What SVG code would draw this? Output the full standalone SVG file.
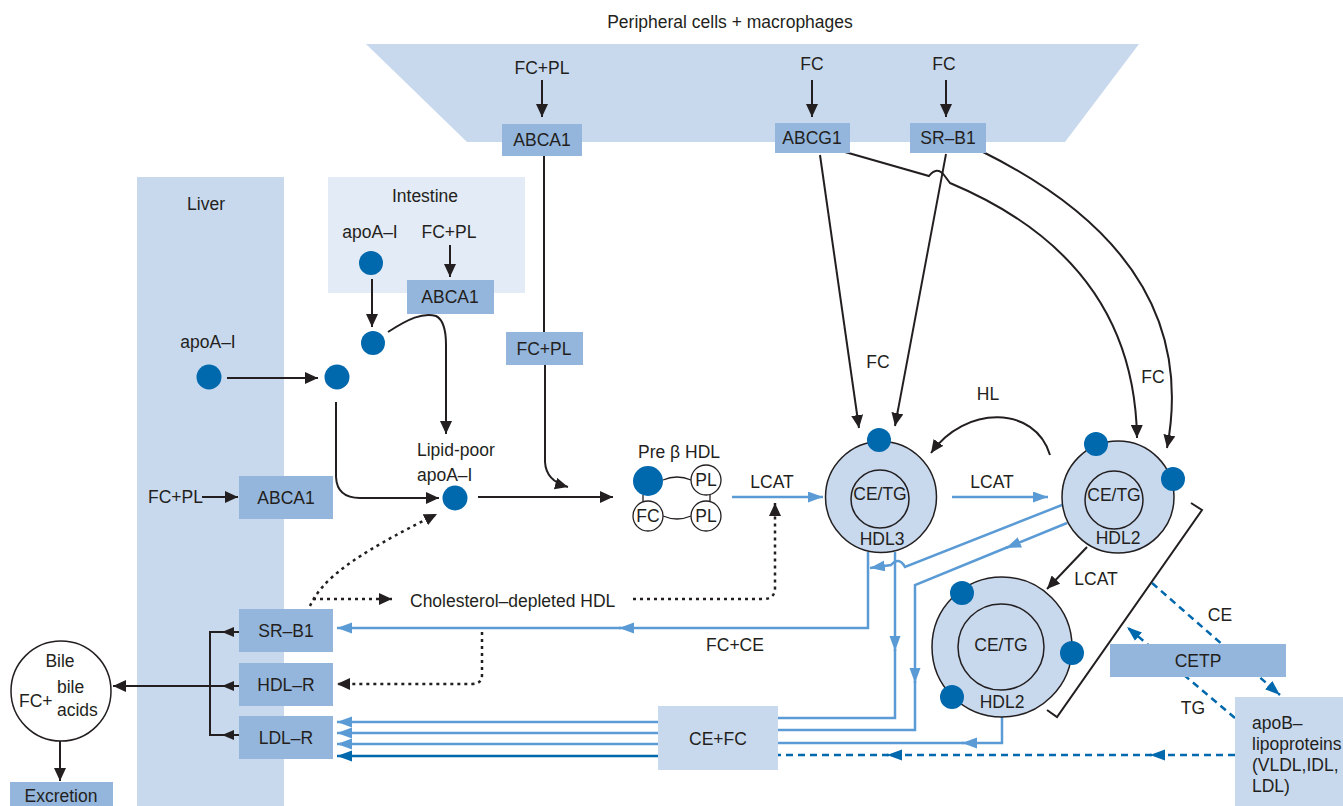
<svg xmlns="http://www.w3.org/2000/svg" width="1343" height="806" viewBox="0 0 1343 806">
<defs>
<style>
.t{font-family:"Liberation Sans",Arial,sans-serif;font-size:17.5px;fill:#231f20}
.c{text-anchor:middle}
.k{stroke:#231f20;stroke-width:2;fill:none}
.kd{stroke:#231f20;stroke-width:2.5;fill:none;stroke-dasharray:3,4}
.b{stroke:#5b9bd5;stroke-width:2.5;fill:none}
.bd{stroke:#0068ad;stroke-width:2.5;fill:none;stroke-dasharray:7,5}
.db{stroke:#0068ad;stroke-width:2.5;fill:none}
.dot{fill:#0068ad}
.box{fill:#94b6dc}
.pan{fill:#c8d9ee}
.hdl{fill:#c8d9ee;stroke:#231f20;stroke-width:1.5}
.ring{fill:none;stroke:#231f20;stroke-width:1.5}
.sm{fill:#fff;stroke:#231f20;stroke-width:1.3}
</style>
<marker id="ak" markerUnits="userSpaceOnUse" markerWidth="14" markerHeight="12" refX="13" refY="6" orient="auto"><path d="M0,0 L13,6 L0,12 z" fill="#231f20"/></marker>
<marker id="ab" markerUnits="userSpaceOnUse" markerWidth="16" markerHeight="12" refX="15" refY="5.5" orient="auto"><path d="M0,0 L15,5.5 L0,11 z" fill="#5b9bd5"/></marker>
<marker id="ad" markerUnits="userSpaceOnUse" markerWidth="16" markerHeight="12" refX="15" refY="5.5" orient="auto"><path d="M0,0 L15,5.5 L0,11 z" fill="#0068ad"/></marker>
</defs>
<rect width="1343" height="806" fill="#fff"/>

<g id="panels">
<text class="t c" x="730" y="28">Peripheral cells + macrophages</text>
<polygon class="pan" points="366,44 1139,44 1065,142 467,142"/>
<rect class="pan" x="137" y="177" width="147" height="629"/>
<text class="t c" x="206" y="210">Liver</text>
<rect x="328" y="177" width="197" height="116" fill="#e3ebf6"/>
<text class="t c" x="425" y="202">Intestine</text>
</g>

<g id="connectors">
<!-- top arrows -->
<path class="k" d="M542,80 L542,117" marker-end="url(#ak)"/>
<path class="k" d="M812,80 L812,117" marker-end="url(#ak)"/>
<path class="k" d="M946,80 L946,117" marker-end="url(#ak)"/>
<path class="k" d="M544,156 L544,332"/>
<path class="k" d="M545,365 L545,462 Q546,481 568,487" marker-end="url(#ak)"/>
<!-- intestine -->
<path class="k" d="M450,245 L450,277" marker-end="url(#ak)"/>
<path class="k" d="M372,279 L372,327" marker-end="url(#ak)"/>
<path class="k" d="M388,332 C408,319 423,312 436,316 Q446,321 446,345 L446,434" marker-end="url(#ak)"/>
<!-- liver apoA-I -->
<path class="k" d="M227,378 L318,378" marker-end="url(#ak)"/>
<path class="k" d="M336,402 L336,477 Q337,498 360,498 L439,498" marker-end="url(#ak)"/>
<path class="k" d="M202,497 L238,497" marker-end="url(#ak)"/>
<!-- to pre beta -->
<path class="k" d="M478,497 L613,497" marker-end="url(#ak)"/>
<path class="b" d="M732,497 L823,497" marker-end="url(#ab)"/>
<path class="b" d="M952,497 L1048,497" marker-end="url(#ab)"/>
<!-- peripheral to HDL -->
<path class="k" d="M820,155 L859,428" marker-end="url(#ak)"/>
<path class="k" d="M946,154 L895,426" marker-end="url(#ak)"/>
<path class="k" d="M845,152 L929,176 Q937,166 944,175 L950,183 C1050,225 1135,300 1137,438" marker-end="url(#ak)"/>
<path class="k" d="M983,152 C1100,210 1195,300 1167,448" marker-end="url(#ak)"/>
<path class="k" d="M1050,455 C1035,405 965,405 931,453" marker-end="url(#ak)"/>
<path class="k" d="M1087,547 L1047,589" marker-end="url(#ak)"/>
<!-- blue flows -->
<path class="b" d="M868,552 L868,628 L619,628" marker-end="url(#ab)"/>
<path class="b" d="M621,628 L337,628" marker-end="url(#ab)"/>
<path class="b" d="M1062,505 L905,567 Q899,556 891,565 L870,568" marker-end="url(#ab)"/>
<path class="b" d="M895,552 L895,651" marker-end="url(#ab)"/>
<path class="b" d="M895,649 L895,718 L778,718"/>
<path class="b" d="M1067,523 L1006,548" marker-end="url(#ab)"/>
<path class="b" d="M1008,547 L915,585 L915,683" marker-end="url(#ab)"/>
<path class="b" d="M915,681 L915,730 L778,730"/>
<path class="b" d="M1002,717 L1002,743 L962,743" marker-end="url(#ab)"/>
<path class="b" d="M964,743 L778,743"/>
<path class="b" d="M658,722 L337,722" marker-end="url(#ab)"/>
<path class="b" d="M658,733 L337,733" marker-end="url(#ab)"/>
<path class="b" d="M658,744 L337,744" marker-end="url(#ab)"/>
<path class="db" d="M658,756 L337,756" marker-end="url(#ad)"/>
<path class="bd" d="M1235,755 L1150,755" marker-end="url(#ad)"/>
<path class="bd" d="M1152,755 L887,755" marker-end="url(#ad)"/>
<path class="bd" d="M889,755 L778,755"/>
<path class="bd" d="M1152,583 L1280,695" marker-end="url(#ad)"/>
<path class="bd" d="M1235,718 L1127,627" marker-end="url(#ad)"/>
<!-- bracket -->
<polyline class="k" points="1191,503 1202,510 1057,717 1047,710"/>
<!-- dotted -->
<path class="kd" d="M310,606 C322,580 350,557 437,514" marker-end="url(#ak)"/>
<path class="kd" d="M313,599 L392,599" marker-end="url(#ak)"/>
<path class="kd" d="M633,599 L763,599 Q775,599 775,588 L775,503" marker-end="url(#ak)"/>
<path class="kd" d="M482,632 L482,675 Q482,684 472,684 L337,684" marker-end="url(#ak)"/>
<!-- liver receptors to bile -->
<path class="k" d="M239,632 L210,632 L210,735 L239,735"/>
<path class="k" d="M239,686 L113,686" marker-end="url(#ak)"/>
<polygon points="222,632 234,627 234,637" fill="#231f20"/>
<polygon points="222,686 234,681 234,691" fill="#231f20"/>
<polygon points="222,735 234,730 234,740" fill="#231f20"/>
<path class="k" d="M60,741 L60,781" marker-end="url(#ak)"/>
</g>

<g id="top-ABCA1"><rect class="box" x="502" y="124" width="80" height="32"/><text class="t c" x="542" y="146">ABCA1</text><text class="t c" x="542" y="74">FC+PL</text></g>
<g id="top-ABCG1"><rect class="box" x="775" y="123" width="75" height="30"/><text class="t c" x="812" y="144">ABCG1</text><text class="t c" x="812" y="70">FC</text></g>
<g id="top-SRB1"><rect class="box" x="910" y="123" width="76" height="30"/><text class="t c" x="948" y="144">SR–B1</text><text class="t c" x="944" y="70">FC</text></g>

<g id="intestine">
<text class="t c" x="370" y="238">apoA–I</text>
<text class="t c" x="449" y="238">FC+PL</text>
<circle class="dot" cx="371" cy="263" r="12"/>
<rect class="box" x="407" y="280" width="87" height="34"/>
<text class="t c" x="450" y="303">ABCA1</text>
</g>
<g id="apoA1-mid"><circle class="dot" cx="373" cy="343" r="12"/></g>
<g id="fcpl-box"><rect class="box" x="506" y="332" width="77" height="33"/><text class="t c" x="544" y="355">FC+PL</text></g>

<g id="liver-apoA1">
<text class="t c" x="208" y="348">apoA–I</text>
<circle class="dot" cx="209" cy="377" r="12.5"/>
<circle class="dot" cx="337" cy="377" r="12.5"/>
</g>
<g id="liver-ABCA1">
<text class="t" x="148" y="503">FC+PL</text>
<rect class="box" x="239" y="476" width="94" height="43"/>
<text class="t c" x="286" y="504">ABCA1</text>
</g>

<g id="lipid-poor">
<text class="t" x="417" y="456">Lipid-poor</text>
<text class="t" x="417" y="481">apoA–I</text>
<circle class="dot" cx="455" cy="498" r="12.5"/>
</g>

<g id="prebeta">
<text class="t c" x="679" y="458">Pre β HDL</text>
<path class="k" style="stroke-width:1.3" d="M663,480 Q677,474 691,480 M663,516 Q677,522 691,516 M643,495 L643,502 M710,495 L710,502"/>
<circle class="sm" cx="706" cy="480" r="15"/>
<circle class="sm" cx="648" cy="516" r="15"/>
<circle class="sm" cx="706" cy="516" r="15"/>
<circle class="dot" cx="648" cy="481" r="15"/>
<text class="t c" x="706" y="486">PL</text>
<text class="t c" x="648" y="522">FC</text>
<text class="t c" x="706" y="522">PL</text>
</g>
<text class="t c" x="772" y="488">LCAT</text>
<text class="t c" x="992" y="488">LCAT</text>
<text class="t c" x="878" y="368">FC</text>
<text class="t c" x="1153" y="383">FC</text>
<text class="t c" x="988" y="400">HL</text>
<text class="t c" x="1096" y="585">LCAT</text>
<text class="t c" x="735" y="651">FC+CE</text>

<g id="HDL3">
<circle class="hdl" cx="881" cy="497" r="55.5"/>
<circle class="ring" cx="880" cy="499" r="29"/>
<text class="t c" x="880" y="500">CE/TG</text>
<text class="t c" x="882" y="545">HDL3</text>
<circle class="dot" cx="879" cy="440" r="12"/>
</g>
<g id="HDL2a">
<circle class="hdl" cx="1118" cy="497" r="56"/>
<circle class="ring" cx="1114" cy="500" r="29"/>
<text class="t c" x="1114" y="501">CE/TG</text>
<text class="t c" x="1118" y="544">HDL2</text>
<circle class="dot" cx="1096" cy="444" r="12"/>
<circle class="dot" cx="1173" cy="479" r="12"/>
</g>
<g id="HDL2b">
<circle class="hdl" cx="1002" cy="647" r="70"/>
<circle class="ring" cx="1001" cy="647" r="43"/>
<text class="t c" x="1001" y="651">CE/TG</text>
<text class="t c" x="1002" y="708">HDL2</text>
<circle class="dot" cx="962" cy="593" r="12"/>
<circle class="dot" cx="1072" cy="653" r="12"/>
<circle class="dot" cx="952" cy="697" r="12"/>
</g>

<g id="chol-depleted"><text class="t" x="410" y="607">Cholesterol–depleted HDL</text></g>
<g id="CETP">
<rect class="box" x="1110" y="644" width="176" height="33"/>
<text class="t c" x="1198" y="667">CETP</text>
<text class="t c" x="1220" y="621">CE</text>
<text class="t c" x="1193" y="714">TG</text>
</g>
<g id="apoB">
<rect class="pan" x="1235" y="697" width="108" height="109"/>
<text class="t" x="1252" y="729">apoB–</text>
<text class="t" x="1252" y="750">lipoproteins</text>
<text class="t" x="1252" y="771">(VLDL,IDL,</text>
<text class="t" x="1252" y="792">LDL)</text>
</g>
<g id="CEFC"><rect class="pan" x="658" y="706" width="120" height="64"/><text class="t c" x="718" y="745">CE+FC</text></g>

<g id="SRB1"><rect class="box" x="239" y="609" width="94" height="43"/><text class="t c" x="286" y="637">SR–B1</text></g>
<g id="HDLR"><rect class="box" x="239" y="663" width="94" height="43"/><text class="t c" x="286" y="691">HDL–R</text></g>
<g id="LDLR"><rect class="box" x="239" y="716" width="94" height="43"/><text class="t c" x="286" y="744">LDL–R</text></g>

<g id="bile">
<circle cx="61" cy="691" r="50" fill="#fff" stroke="#231f20" stroke-width="1.5"/>
<text class="t c" x="60" y="667">Bile</text>
<text class="t" x="19" y="707">FC+</text>
<text class="t" x="57" y="693">bile</text>
<text class="t" x="57" y="716">acids</text>
</g>
<g id="excretion"><rect class="box" x="10" y="782" width="103" height="24"/><text class="t c" x="61" y="802">Excretion</text></g>
</svg>
